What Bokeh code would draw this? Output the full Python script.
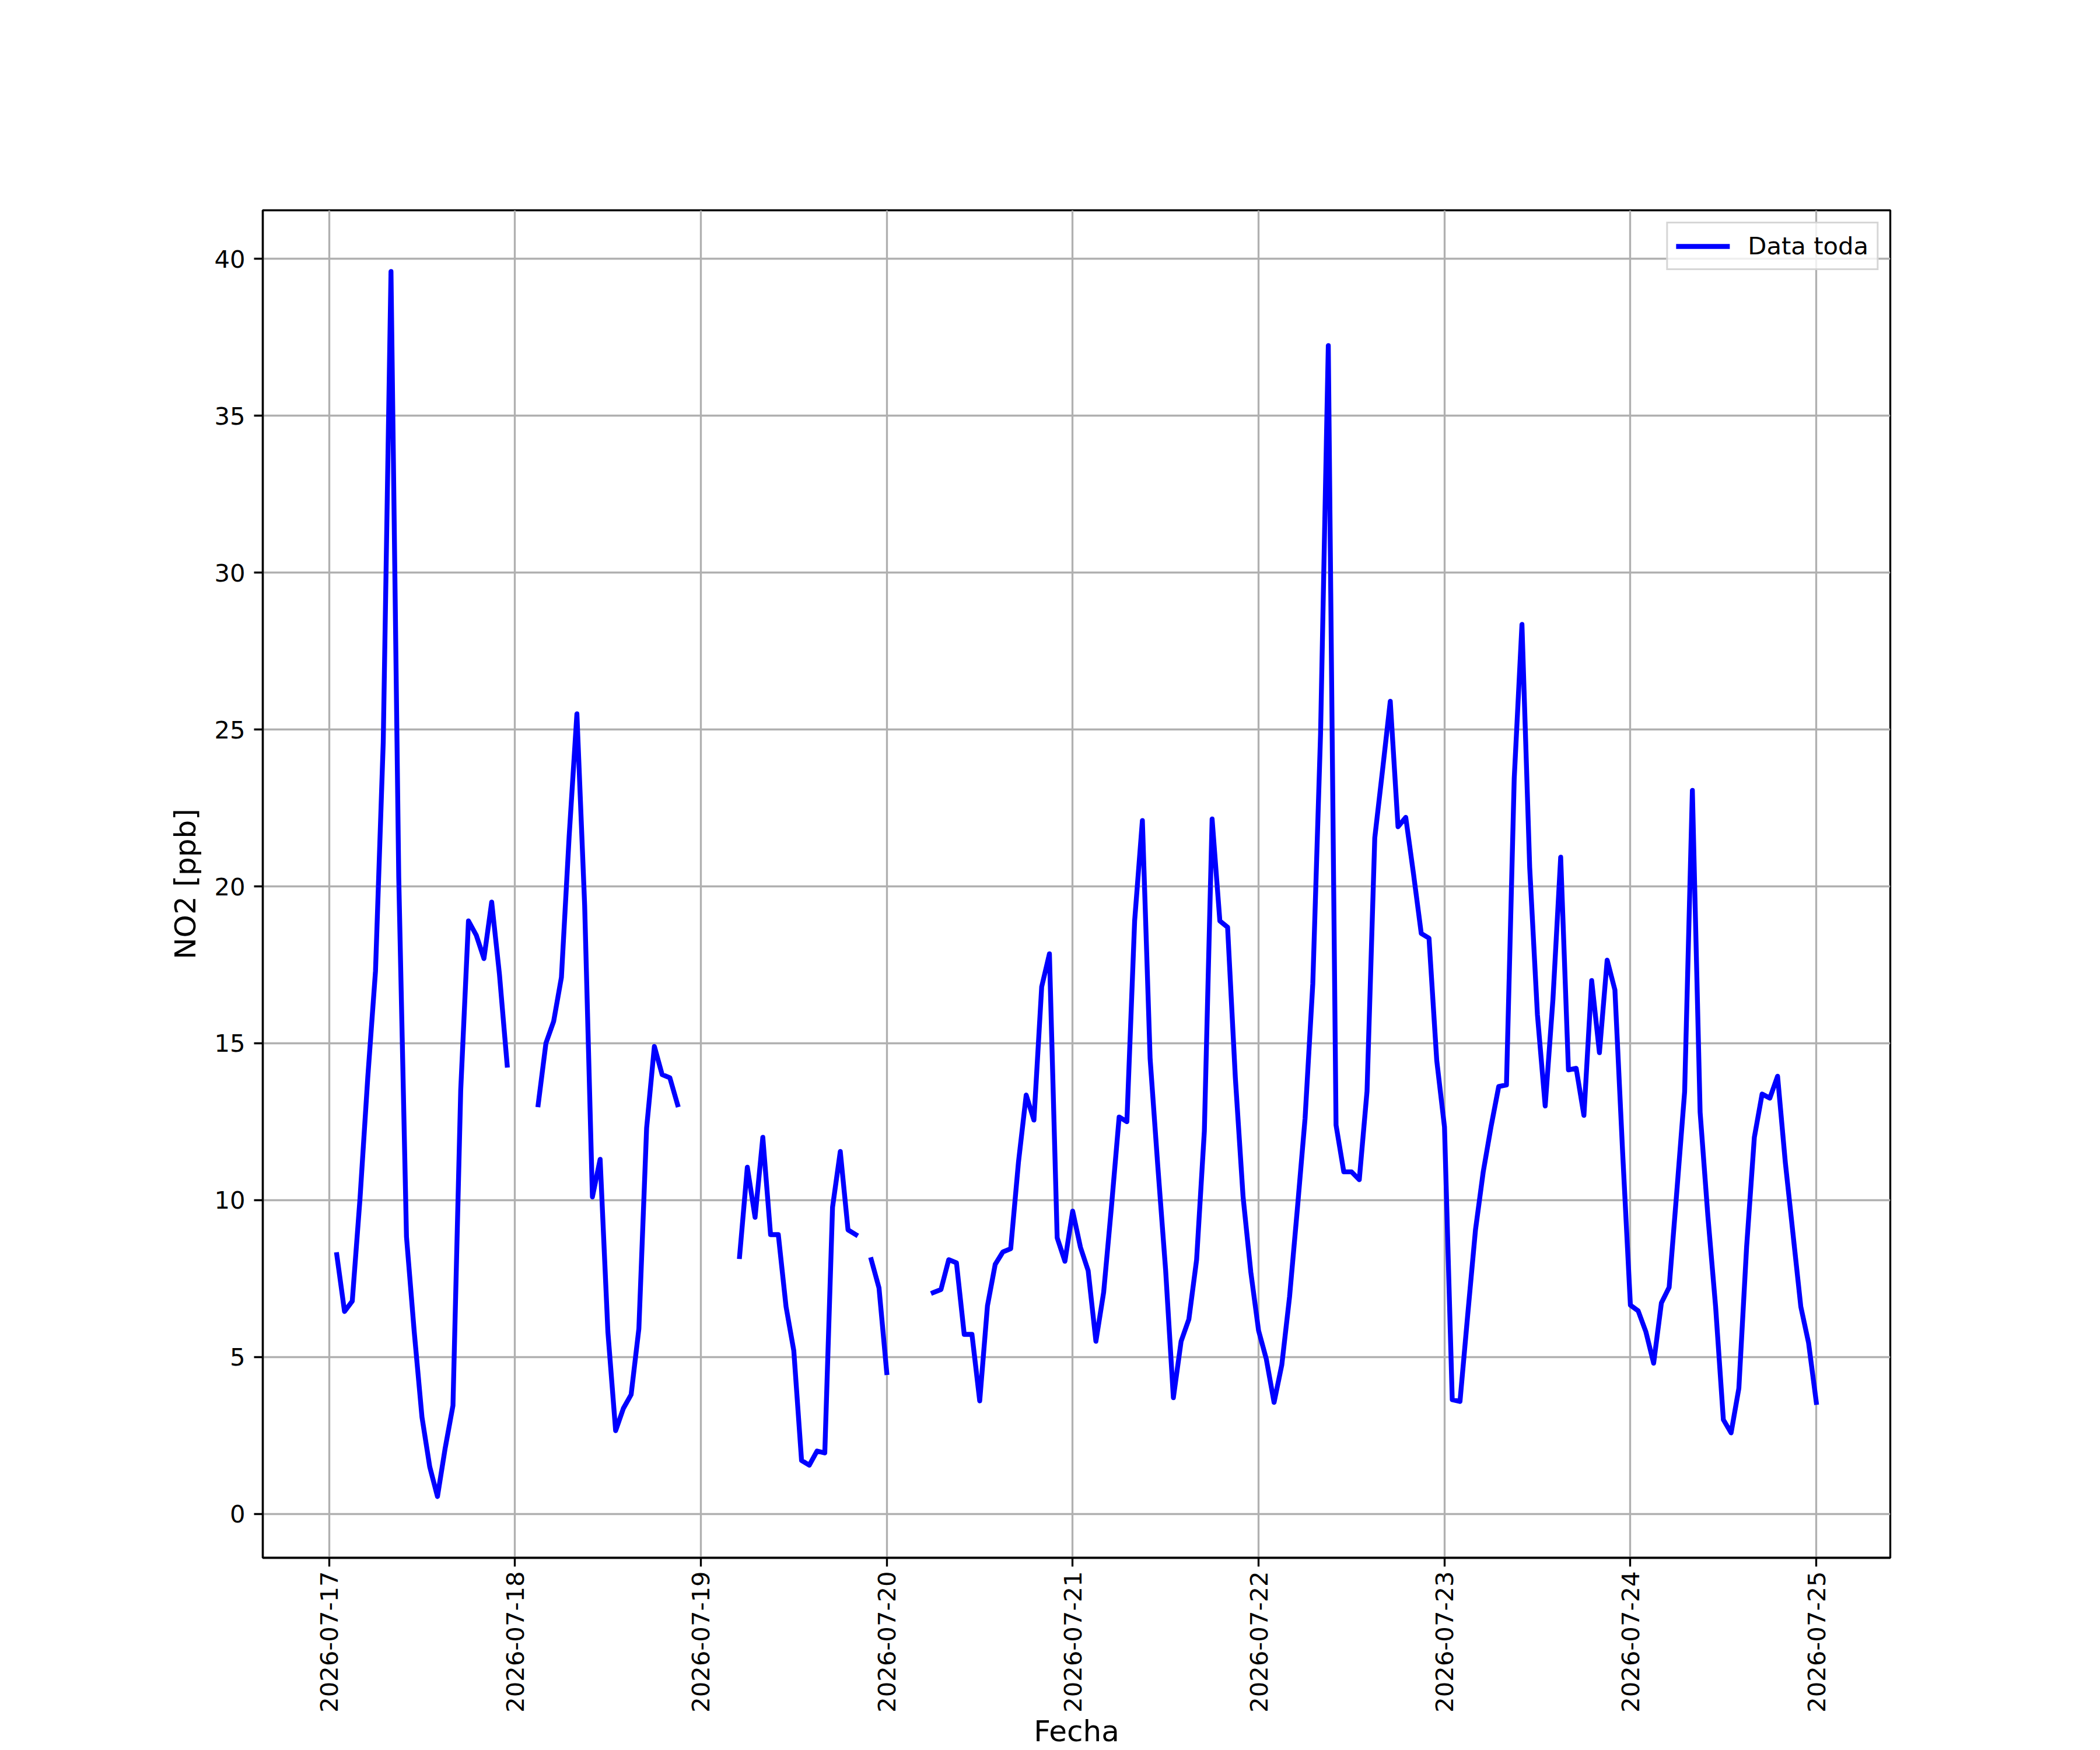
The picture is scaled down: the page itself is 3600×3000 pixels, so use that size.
import numpy as np
import pandas as pd
from bokeh.plotting import figure
from bokeh.models import ColumnDataSource, Range1d, FixedTicker, DatetimeTickFormatter
from bokeh.embed import file_html
from bokeh.resources import INLINE

# ---- data (hourly NO2, ppb), first value at 2026-07-17 01:00 ----
start_time = "2026-07-17 01:00"
no2 = [
    # 2026-07-17 01..23
    8.26, 6.45, 6.78, 10.05, 13.9, 17.3, 24.6, 39.6, 20.3, 8.83, 5.8, 3.08,
    1.5, 0.55, 2.1, 3.45, 13.5, 18.9, 18.45, 17.7, 19.5, 17.2, 14.3,
    # 2026-07-18 00..23
    None, None, None, 13.04, 15.0, 15.7, 17.1, 21.6, 25.5, 19.4, 10.1, 11.3,
    5.8, 2.65, 3.36, 3.8, 5.9, 12.3, 14.9, 14.0, 13.9, 13.04, None, None,
    # 2026-07-19 00..23
    None, None, None, None, None, 8.2, 11.05, 9.45, 12.0, 8.9, 8.9, 6.6,
    5.2, 1.7, 1.55, 2.0, 1.94, 9.77, 11.55, 9.05, 8.9, None, 8.1, 7.2,
    # 2026-07-20 00..23
    4.5, None, None, None, None, None, 7.05, 7.15, 8.1, 8.0, 5.72, 5.72,
    3.6, 6.63, 7.95, 8.35, 8.45, 11.2, 13.35, 12.55, 16.8, 17.85, 8.8, 8.05,
    # 2026-07-21 00..23
    9.65, 8.5, 7.75, 5.5, 7.06, 9.77, 12.65, 12.5, 18.9, 22.1, 14.5, 11.05,
    7.77, 3.7, 5.5, 6.2, 8.1, 12.2, 22.15, 18.9, 18.7, 13.9, 10.1, 7.7,
    # 2026-07-22 00..23
    5.84, 4.93, 3.55, 4.75, 6.92, 9.7, 12.6, 16.9, 24.86, 37.24, 12.39, 10.9,
    10.9, 10.65, 13.47, 21.55, 23.7, 25.9, 21.9, 22.2, 20.4, 18.5, 18.35, 14.45,
    # 2026-07-23 00..23
    12.33, 3.64, 3.58, 6.35, 9.05, 10.9, 12.33, 13.62, 13.67, 23.43, 28.35, 20.6,
    15.9, 13.0, 16.4, 20.93, 14.15, 14.2, 12.7, 17.0, 14.7, 17.65, 16.7, 11.5,
    # 2026-07-24 00..23
    6.65, 6.47, 5.8, 4.8, 6.72, 7.22, 10.3, 13.45, 23.06, 12.8, 9.5, 6.6,
    3.0, 2.58, 4.0, 8.5, 12.0, 13.38, 13.25, 13.95, 11.2, 8.9, 6.6, 5.45,
    # 2026-07-25 00
    3.55,
]
tick_days = ["2026-07-17", "2026-07-18", "2026-07-19", "2026-07-20", "2026-07-21",
             "2026-07-22", "2026-07-23", "2026-07-24", "2026-07-25"]
y_ticks = [0, 5, 10, 15, 20, 25, 30, 35, 40]
series_label = "Data toda"
x_label = "Fecha"
y_label = "NO2 [ppb]"

# ---- prepare ----
times = pd.date_range(start_time, periods=len(no2), freq="h")
vals = np.array([np.nan if v is None else v for v in no2], dtype=float)
t_ms = times.asi8 / 1e6

tmin, tmax = t_ms.min(), t_ms.max()
xpad = 0.05 * (tmax - tmin)
x0, x1 = tmin - xpad, tmax + xpad
vmin, vmax = np.nanmin(vals), np.nanmax(vals)
ypad = 0.05 * (vmax - vmin)
y0, y1 = vmin - ypad, vmax + ypad

source = ColumnDataSource(data=dict(t=times, no2=vals))

# layout (canvas px)
W, H = 3600, 3000
FL, FR, FT, FB = 450, 3240, 360, 2670

FONT = "DejaVu Sans"
TICK_FS = "41.7px"
LABEL_FS = "50px"
LW = 3.33

p = figure(width=W, height=H, x_axis_type="datetime",
           x_range=Range1d(x0, x1), y_range=Range1d(y0, y1),
           output_backend="svg", toolbar_location=None,
           min_border_left=FL, min_border_right=W - FR,
           min_border_top=FT, min_border_bottom=H - FB)
p.background_fill_color = "white"
p.border_fill_color = "white"
p.outline_line_color = "black"
p.outline_line_width = LW

p.line(x="t", y="no2", source=source, line_color="#0000ff", line_width=8.33,
       line_join="round", line_cap="square", legend_label=series_label)

day_ms = [pd.Timestamp(d).value / 1e6 for d in tick_days]
p.xaxis.ticker = FixedTicker(ticks=day_ms)
fmt = "%Y-%m-%d"
p.xaxis.formatter = DatetimeTickFormatter(milliseconds=fmt, seconds=fmt, minsec=fmt, minutes=fmt,
                                          hourmin=fmt, hours=fmt, days=fmt, months=fmt, years=fmt)
p.xaxis.major_label_orientation = np.pi / 2
p.yaxis.ticker = FixedTicker(ticks=y_ticks)

for ax in (p.xaxis[0], p.yaxis[0]):
    ax.axis_line_color = "black"
    ax.axis_line_width = LW
    ax.major_tick_line_color = "black"
    ax.major_tick_line_width = LW
    ax.major_tick_out = 15
    ax.major_tick_in = 0
    ax.minor_tick_line_color = None
    ax.major_label_text_font = FONT
    ax.major_label_text_font_size = TICK_FS
    ax.major_label_text_color = "black"
    ax.axis_label_text_font = FONT
    ax.axis_label_text_font_size = LABEL_FS
    ax.axis_label_text_font_style = "normal"
    ax.axis_label_text_color = "black"
p.xaxis.major_label_standoff = 8
p.yaxis.major_label_standoff = 15
p.xaxis.axis_label = x_label
p.xaxis.axis_label_standoff = 0
p.yaxis.axis_label = y_label
p.yaxis.axis_label_standoff = 17

for g in (p.xgrid[0], p.ygrid[0]):
    g.grid_line_color = "#b0b0b0"
    g.grid_line_width = LW

# legend
lg = p.legend[0]
lg.location = "top_right"
lg.margin = 20
lg.padding = 14
lg.spacing = 0
lg.glyph_width = 92
lg.glyph_height = 44
lg.label_height = 44
lg.label_standoff = 31
lg.label_text_font = FONT
lg.label_text_font_size = TICK_FS
lg.label_text_color = "black"
lg.border_line_color = "#cccccc"
lg.border_line_width = LW
lg.border_line_alpha = 0.8
lg.background_fill_alpha = 0.8

open("out.html", "w").write(file_html(p, INLINE))
